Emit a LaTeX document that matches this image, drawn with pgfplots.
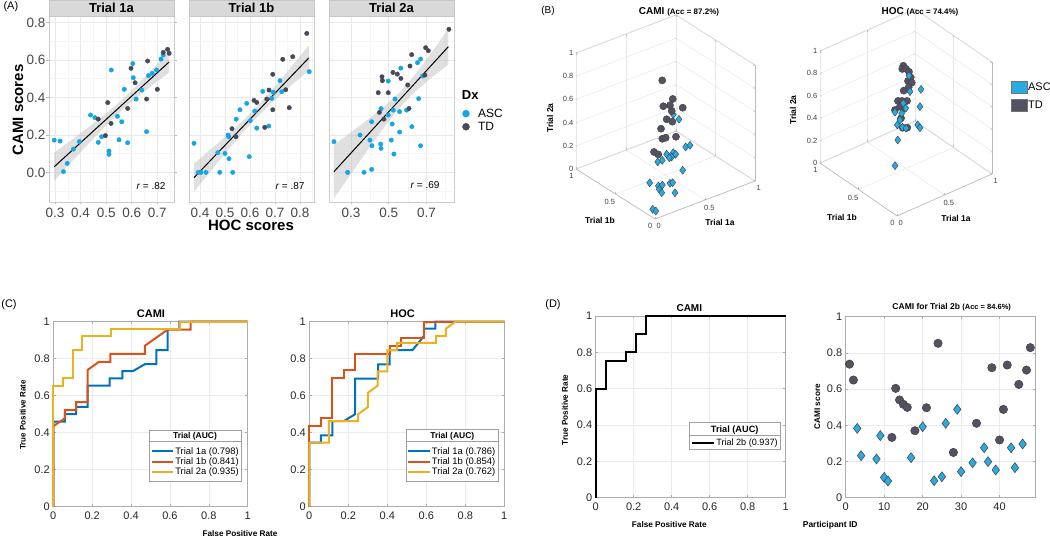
\documentclass[border=0pt]{standalone}
\usepackage{pgfplots}
\pgfplotsset{compat=1.18}
\usepackage{fontspec}
\setmainfont{Liberation Sans}
\newcommand{\fs}[1]{\fontsize{#1}{#1}\selectfont}
\definecolor{ascA}{RGB}{20,166,228}
\definecolor{tdA}{RGB}{72,72,88}
\definecolor{ascB}{RGB}{40,170,226}
\definecolor{tdB}{RGB}{82,82,98}
\definecolor{mblue}{RGB}{0,114,189}
\definecolor{mred}{RGB}{217,83,25}
\definecolor{myel}{RGB}{237,177,32}
\definecolor{stripc}{RGB}{217,217,217}
\tikzset{zlab/.style={anchor=east, font=\fs{7.5}, text=black!75, inner sep=2.5pt}}
\pgfplotsset{
 facetA/.style={
  scale only axis, anchor=south west, width=125pt, height=186pt,
  ymin=-0.158, ymax=0.834,
  ytick={0,0.2,0.4,0.6,0.8}, minor ytick={-0.1,0.1,0.3,0.5,0.7},
  grid=both, major grid style={draw=gray!17, line width=0.7pt}, minor grid style={draw=gray!8, line width=0.4pt},
  axis line style={draw=gray!40, line width=0.8pt},
  tick align=outside, major tick length=2.5pt, minor tick length=0pt,
  tick style={draw=gray!55, line width=0.7pt},
  tick label style={font=\fs{13.5}, text=black!72},
  yticklabel style={inner sep=1pt},
  clip=true,
 },
 b3d/.style={
  anchor=origin,
  xmin=0,xmax=1,ymin=0,ymax=1,zmin=0,zmax=1,
  xtick={0,0.5,1}, ytick={0,0.5,1}, ztick={0,0.2,0.4,0.6,0.8,1},
  xticklabels={0,0.5,1}, yticklabels={0,0.5,1}, zticklabels={},
  grid=major, major grid style={draw=gray!18, line width=0.5pt},
  axis line style={draw=gray!55, line width=0.6pt},
  tick style={draw=gray!55}, major tick length=2pt,
  tick label style={font=\fs{7.5}, text=black!75},
  clip=false,
 },
 roc/.style={
  scale only axis, anchor=south west,
  xmin=0, xmax=1, ymin=0, ymax=1,
  xtick={0,0.2,0.4,0.6,0.8,1}, ytick={0,0.2,0.4,0.6,0.8,1},
  xticklabels={0,0.2,0.4,0.6,0.8,1}, yticklabels={0,0.2,0.4,0.6,0.8,1},
  grid=major, major grid style={draw=gray!16, line width=0.6pt},
  axis line style={draw=gray!65, line width=0.6pt},
  tick style={draw=gray!65, line width=0.6pt}, tick align=inside, major tick length=2.5pt,
  tick label style={font=\fs{11}, text=black!85},
  xticklabel style={yshift=-2pt},
  clip=false,
  legend cell align=left,
  legend style={anchor=north west, draw=none, fill=none, inner sep=0pt, outer sep=0pt, row sep=0pt, font=\fs{9.4}, nodes={inner sep=1pt}},
 },
}
\begin{document}
\begin{tikzpicture}
\path[use as bounding box] (0pt,0pt) rectangle (1050pt,538pt);

% ================= Panel A =================
\begin{axis}[facetA, at={(49pt,336pt)}, xmin=0.2766, xmax=0.765,
  xtick={0.3,0.4,0.5,0.6,0.7}, xticklabels={0.3,0.4,0.5,0.6,0.7},
  minor xtick={0.35,0.45,0.55,0.65,0.75}, yticklabels={0.0,0.2,0.4,0.6,0.8}]
\addplot[draw=none, fill=gray!60, fill opacity=0.4] coordinates {(0.297,0.105)(0.35,0.158)(0.40,0.209)(0.45,0.260)(0.50,0.315)(0.55,0.373)(0.60,0.437)(0.65,0.506)(0.70,0.578)(0.746,0.646)(0.746,0.532)(0.70,0.486)(0.65,0.432)(0.60,0.377)(0.55,0.317)(0.50,0.251)(0.45,0.180)(0.40,0.107)(0.35,0.034)(0.297,-0.045)};
\addplot[only marks, mark=*, mark size=2.2pt, color=ascA] coordinates {(0.297,0.172)(0.320,0.167)(0.333,0.004)(0.348,0.048)(0.372,0.124)(0.395,0.164)(0.439,0.306)(0.456,0.292)(0.469,0.160)(0.482,0.190)(0.511,0.114)(0.511,0.096)(0.520,0.546)(0.544,0.299)(0.550,0.174)(0.561,0.270)(0.571,0.443)(0.584,0.158)(0.604,0.580)(0.606,0.505)(0.617,0.391)(0.639,0.439)(0.665,0.516)(0.680,0.528)(0.658,0.217)(0.697,0.546)(0.714,0.604)(0.723,0.626)};
\addplot[only marks, mark=*, mark size=2.2pt, color=tdA] coordinates {(0.469,0.284)(0.497,0.196)(0.506,0.372)(0.519,0.261)(0.584,0.341)(0.597,0.555)(0.613,0.478)(0.658,0.391)(0.662,0.594)(0.700,0.443)(0.723,0.640)(0.740,0.656)(0.746,0.635)};
\addplot[black, line width=1pt] coordinates {(0.297,0.030)(0.746,0.589)};
\end{axis}

\begin{axis}[facetA, at={(189pt,336pt)}, xmin=0.356, xmax=0.856,
  xtick={0.4,0.5,0.6,0.7,0.8}, xticklabels={0.4,0.5,0.6,0.7,0.8},
  minor xtick={0.45,0.55,0.65,0.75,0.85}, yticklabels={}, ytick style={draw=none}]
\addplot[draw=none, fill=gray!60, fill opacity=0.4] coordinates {(0.376,0.047)(0.42,0.097)(0.47,0.154)(0.52,0.212)(0.57,0.273)(0.62,0.339)(0.67,0.412)(0.72,0.490)(0.77,0.571)(0.835,0.677)(0.835,0.543)(0.77,0.469)(0.72,0.410)(0.67,0.350)(0.62,0.283)(0.57,0.211)(0.52,0.132)(0.47,0.052)(0.42,-0.031)(0.376,-0.103)};
\addplot[only marks, mark=*, mark size=2.2pt, color=ascA] coordinates {(0.376,0.155)(0.393,0.0)(0.404,0.0)(0.424,0.0)(0.471,0.105)(0.479,0.0)(0.500,0.101)(0.516,0.073)(0.512,0.199)(0.515,0.190)(0.531,0.0)(0.545,0.284)(0.560,0.334)(0.587,0.368)(0.597,0.084)(0.601,0.276)(0.619,0.327)(0.627,0.236)(0.651,0.432)(0.675,0.247)(0.687,0.395)(0.693,0.428)(0.720,0.489)(0.727,0.430)(0.837,0.537)};
\addplot[only marks, mark=*, mark size=2.2pt, color=tdA] coordinates {(0.528,0.233)(0.544,0.190)(0.616,0.384)(0.627,0.373)(0.659,0.240)(0.667,0.391)(0.676,0.439)(0.691,0.523)(0.691,0.334)(0.731,0.603)(0.743,0.441)(0.757,0.345)(0.771,0.617)(0.827,0.741)};
\addplot[black, line width=1pt] coordinates {(0.376,-0.028)(0.835,0.610)};
\end{axis}

\begin{axis}[facetA, at={(329pt,336pt)}, xmin=0.1836, xmax=0.845,
  xtick={0.3,0.5,0.7}, xticklabels={0.3,0.5,0.7},
  minor xtick={0.2,0.4,0.6,0.8}, yticklabels={}, ytick style={draw=none}]
\addplot[draw=none, fill=gray!60, fill opacity=0.4] coordinates {(0.21,0.146)(0.28,0.199)(0.35,0.252)(0.42,0.306)(0.49,0.364)(0.56,0.429)(0.63,0.510)(0.70,0.603)(0.76,0.686)(0.815,0.765)(0.815,0.575)(0.76,0.532)(0.70,0.483)(0.63,0.422)(0.56,0.349)(0.49,0.260)(0.42,0.164)(0.35,0.064)(0.28,-0.037)(0.21,-0.138)};
\addplot[only marks, mark=*, mark size=2.2pt, color=ascA] coordinates {(0.210,0.164)(0.282,0.0)(0.348,0.199)(0.369,0.0)(0.400,0.172)(0.409,0.016)(0.409,0.270)(0.411,0.142)(0.457,0.151)(0.459,0.128)(0.459,0.340)(0.497,0.306)(0.497,0.487)(0.513,0.172)(0.518,0.258)(0.524,0.332)(0.527,0.098)(0.533,0.391)(0.557,0.215)(0.557,0.324)(0.563,0.556)(0.594,0.332)(0.622,0.244)(0.658,0.393)(0.652,0.585)(0.668,0.604)(0.668,0.142)(0.679,0.514)};
\addplot[only marks, mark=*, mark size=2.2pt, color=tdA] coordinates {(0.444,0.425)(0.450,0.320)(0.464,0.510)(0.466,0.489)(0.474,0.284)(0.497,0.425)(0.522,0.533)(0.545,0.524)(0.564,0.501)(0.600,0.466)(0.607,0.341)(0.612,0.567)(0.621,0.628)(0.691,0.519)(0.695,0.665)(0.709,0.649)(0.818,0.763)};
\addplot[black, line width=1pt] coordinates {(0.21,0.004)(0.815,0.670)};
\end{axis}

% legend Dx
\begin{axis}[hide axis, scale only axis, width=20pt, height=20pt, at={(462.5pt,430.3pt)}, anchor=north west,
  xmin=0,xmax=1,ymin=0,ymax=1,
  legend style={at={(0,1)}, anchor=north west, draw=none, fill=none, inner sep=0pt, outer sep=0pt, row sep=1.3pt, font=\fs{12}, nodes={inner sep=1pt}, /tikz/every odd column/.append style={column sep=7.5pt}},
  legend cell align=left]
\addlegendimage{only marks, mark=*, mark size=3.5pt, color=ascA}
\addlegendentry{ASC}
\addlegendimage{only marks, mark=*, mark size=3.5pt, color=tdA}
\addlegendentry{TD}
\end{axis}

% ================= Panel B =================
\begin{axis}[b3d, at={(655pt,319pt)}, x={(100pt,38pt)}, y={(-79pt,50pt)}, z={(0pt,116pt)}]
\addplot3[only marks, mark=diamond*, mark size=4pt, mark options={fill=ascB, draw=black!75, line width=0.4pt}] coordinates {(0.576,0.498,0.498)(0.605,0.462,0.462)(0.360,0.308,0.308)(0.422,0.303,0.303)(0.436,0.290,0.290)(0.391,0.284,0.284)(0.368,0.285,0.285)(0.298,0.285,0.285)(0.253,0.286,0.286)(0.550,0.308,0.308)(0.593,0.308,0.308)(0.431,0.195,0.195)(0.101,0.195,0.195)(0.162,0.162,0.162)(0.199,0.159,0.159)(0.271,0.153,0.153)(0.296,0.151,0.151)(0.156,0.143,0.143)(0.163,0.121,0.121)(0.275,0.095,0.095)(0.020,0.054,0.054)(0.039,0.039,0.039)};
\addplot3[only marks, mark=*, mark size=3.6pt, mark options={fill=tdB, draw=black!75, line width=0.4pt}] coordinates {(0.620,0.693,0.693)(0.634,0.578,0.578)(0.525,0.559,0.559)(0.585,0.551,0.551)(0.683,0.514,0.514)(0.577,0.519,0.519)(0.501,0.486,0.486)(0.539,0.463,0.463)(0.415,0.449,0.449)(0.385,0.395,0.395)(0.418,0.394,0.394)(0.509,0.379,0.379)(0.262,0.344,0.344)(0.288,0.323,0.323)};
\node[zlab] at (axis cs:0,1,0) {0};
\node[zlab] at (axis cs:0,1,0.2) {0.2};
\node[zlab] at (axis cs:0,1,0.4) {0.4};
\node[zlab] at (axis cs:0,1,0.6) {0.6};
\node[zlab] at (axis cs:0,1,0.8) {0.8};
\node[zlab] at (axis cs:0,1,1) {1};
\end{axis}

\begin{axis}[b3d, at={(897pt,322pt)}, x={(95pt,42pt)}, y={(-77pt,53pt)}, z={(0pt,112pt)}]
\addplot3[only marks, mark=*, mark size=3.6pt, mark options={fill=tdB, draw=black!75, line width=0.4pt}] coordinates {(0.667,0.741,0.741)(0.645,0.727,0.727)(0.678,0.719,0.719)(0.692,0.698,0.698)(0.684,0.666,0.666)(0.646,0.654,0.654)(0.671,0.637,0.637)(0.569,0.615,0.615)(0.626,0.621,0.621)(0.477,0.576,0.576)(0.512,0.567,0.567)(0.556,0.556,0.556)(0.414,0.537,0.537)(0.493,0.527,0.527)(0.433,0.482,0.482)(0.409,0.431,0.431)(0.449,0.421,0.421)(0.471,0.543,0.543)};
\addplot3[only marks, mark=diamond*, mark size=4pt, mark options={fill=ascB, draw=black!75, line width=0.4pt}] coordinates {(0.676,0.678,0.678)(0.620,0.596,0.596)(0.725,0.583,0.583)(0.645,0.498,0.498)(0.514,0.552,0.552)(0.515,0.522,0.522)(0.405,0.526,0.526)(0.460,0.506,0.506)(0.417,0.476,0.476)(0.374,0.457,0.457)(0.408,0.434,0.434)(0.436,0.421,0.421)(0.552,0.412,0.412)(0.560,0.392,0.392)(0.316,0.380,0.380)(0.188,0.257,0.257)};
\node[zlab] at (axis cs:0,1,0) {0};
\node[zlab] at (axis cs:0,1,0.2) {0.2};
\node[zlab] at (axis cs:0,1,0.4) {0.4};
\node[zlab] at (axis cs:0,1,0.6) {0.6};
\node[zlab] at (axis cs:0,1,0.8) {0.8};
\node[zlab] at (axis cs:0,1,1) {1};
\end{axis}

% legend B
\begin{axis}[hide axis, scale only axis, width=20pt, height=20pt, at={(1010.7pt,456.7pt)}, anchor=north west,
  xmin=0,xmax=1,ymin=0,ymax=1,
  legend style={at={(0,1)}, anchor=north west, draw=none, fill=none, inner sep=0pt, outer sep=0pt, row sep=5.4pt, font=\fs{11}, nodes={inner sep=1pt}},
  legend cell align=left,
  legend image code/.code={\draw[#1] (0pt,-6pt) rectangle (16pt,6pt);}]
\addlegendimage{fill=ascB, draw=black!55}
\addlegendentry{ASC}
\addlegendimage{fill=tdB, draw=black!55}
\addlegendentry{TD}
\end{axis}

% ================= Panel C =================
\begin{axis}[roc, at={(53.3pt,31.3pt)}, width=194.4pt, height=185pt,
  legend style={at={(0.501,0.3265)}},
  legend image code/.code={\draw[#1, line width=2pt] (0pt,0pt) -- (21.6pt,0pt);}]
\addplot[mblue, line width=2pt] coordinates {(0,0)(0,0.46)(0.06,0.46)(0.06,0.5)(0.118,0.5)(0.118,0.54)(0.177,0.54)(0.177,0.654)(0.29,0.654)(0.29,0.694)(0.355,0.694)(0.355,0.733)(0.41,0.733)(0.47,0.77)(0.53,0.77)(0.53,0.846)(0.588,0.846)(0.588,0.96)(0.648,0.96)(0.648,1)(1,1)};
\addplot[mred, line width=2pt] coordinates {(0,0)(0,0.435)(0.06,0.478)(0.06,0.522)(0.118,0.522)(0.118,0.565)(0.176,0.565)(0.176,0.739)(0.235,0.783)(0.294,0.783)(0.294,0.826)(0.471,0.826)(0.471,0.870)(0.588,0.957)(0.706,0.957)(0.706,1)(1,1)};
\addplot[myel, line width=2pt] coordinates {(0,0)(0,0.652)(0.05,0.652)(0.05,0.696)(0.1,0.696)(0.1,0.848)(0.15,0.848)(0.15,0.924)(0.297,0.924)(0.297,0.962)(0.65,0.962)(0.65,1)(1,1)};
\draw[gray!75, fill=white, line width=0.6pt] (axis description cs:0.4923,0.1351) rectangle (axis description cs:0.9655,0.4146);
\draw[gray!75, line width=0.6pt] (axis description cs:0.4923,0.3514) -- (axis description cs:0.9655,0.3514);
\node[font=\bfseries\fs{8.5}] at (axis description cs:0.7289,0.3822) {Trial (AUC)};
\legend{Trial 1a (0.798),Trial 1b (0.841),Trial 2a (0.935)}
\end{axis}

\begin{axis}[roc, at={(309.3pt,31.3pt)}, width=195pt, height=185pt,
  legend style={at={(0.5026,0.3265)}},
  legend image code/.code={\draw[#1, line width=2pt] (0pt,0pt) -- (21.6pt,0pt);}]
\addplot[mblue, line width=2pt] coordinates {(0,0)(0,0.346)(0.059,0.346)(0.059,0.385)(0.118,0.385)(0.118,0.462)(0.176,0.462)(0.235,0.5)(0.235,0.692)(0.353,0.692)(0.353,0.769)(0.412,0.769)(0.412,0.846)(0.529,0.846)(0.588,0.923)(0.588,0.962)(0.647,0.962)(0.647,1)(1,1)};
\addplot[mred, line width=2pt] coordinates {(0,0)(0,0.435)(0.059,0.435)(0.059,0.478)(0.118,0.478)(0.118,0.696)(0.176,0.696)(0.176,0.739)(0.235,0.739)(0.235,0.826)(0.412,0.826)(0.412,0.870)(0.471,0.870)(0.471,0.913)(0.588,0.913)(0.588,1)(1,1)};
\addplot[myel, line width=2pt] coordinates {(0,0)(0,0.346)(0.1,0.346)(0.1,0.462)(0.25,0.462)(0.25,0.5)(0.3,0.538)(0.3,0.615)(0.35,0.654)(0.35,0.731)(0.4,0.731)(0.4,0.846)(0.45,0.846)(0.45,0.885)(0.65,0.885)(0.65,0.923)(0.7,0.923)(0.7,0.962)(0.75,1)(1,1)};
\draw[gray!75, fill=white, line width=0.6pt] (axis description cs:0.4959,0.1389) rectangle (axis description cs:0.9692,0.4184);
\draw[gray!75, line width=0.6pt] (axis description cs:0.4959,0.3514) -- (axis description cs:0.9692,0.3514);
\node[font=\bfseries\fs{8.5}] at (axis description cs:0.7333,0.3822) {Trial (AUC)};
\legend{Trial 1a (0.786),Trial 1b (0.854),Trial 2a (0.762)}
\end{axis}

% ================= Panel D =================
\begin{axis}[roc, at={(595.7pt,40.3pt)}, width=190pt, height=181.7pt,
  legend style={at={(0.5,0.329)}, font=\fs{9.1}},
  legend image code/.code={\draw[#1] (0pt,0pt) -- (22.6pt,0pt);}]
\addplot[black, line width=2pt] coordinates {(0,0)(0,0.6)(0.053,0.6)(0.053,0.75)(0.158,0.75)(0.158,0.8)(0.211,0.8)(0.211,0.9)(0.263,0.9)(0.263,1)(1,1)};
\draw[gray!75, fill=white, line width=0.6pt] (axis description cs:0.4926,0.2664) rectangle (axis description cs:0.9705,0.415);
\draw[gray!75, line width=0.6pt] (axis description cs:0.4926,0.3412) -- (axis description cs:0.9705,0.3412);
\node[font=\bfseries\fs{9.2}] at (axis description cs:0.7316,0.3726) {Trial (AUC)};
\legend{Trial 2b (0.937)}
\end{axis}

\begin{axis}[roc, at={(845.7pt,40.3pt)}, width=190pt, height=181pt,
  xmin=0, xmax=49.4, xtick={0,10,20,30,40}, xticklabels={0,10,20,30,40}]
\addplot[only marks, mark=*, mark size=4.2pt, mark options={fill=tdB, draw=black!75, line width=0.5pt}] coordinates {(1,0.738)(2,0.650)(12,0.333)(13,0.604)(14,0.540)(15,0.516)(16,0.499)(18,0.370)(21,0.497)(24,0.853)(28,0.250)(34,0.411)(38,0.718)(40,0.319)(41,0.488)(42,0.733)(45,0.626)(47,0.705)(48,0.829)};
\addplot[only marks, mark=diamond*, mark size=5pt, mark options={fill=ascB, draw=black!75, line width=0.5pt}] coordinates {(3,0.383)(4,0.232)(8,0.214)(9,0.343)(10,0.112)(11,0.092)(17,0.221)(20,0.392)(23,0.094)(25,0.116)(26,0.411)(29,0.488)(30,0.144)(33,0.193)(36,0.276)(37,0.199)(39,0.153)(43,0.276)(44,0.166)(46,0.297)};
\end{axis}

% ================= Texts =================
\begin{scope}[x=1pt,y=1pt]
% Panel A
\node[anchor=west, font=\fs{11}] at (0,531) {(A)};
\foreach \xa/\xb/\lab in {49/174/Trial 1a, 189/314/Trial 1b, 329/454/Trial 2a}{
  \draw[fill=stripc, draw=gray!45, line width=0.7pt] (\xa,522) rectangle (\xb,537.5);
  \node[font=\bfseries\fs{13}] at ({(\xa+\xb)/2},529.7) {\lab};
}
\node[rotate=90, font=\bfseries\fs{15}] at (18,428) {CAMI scores};
\node[font=\bfseries\fs{15}] at (251,313) {HOC scores};
\node[anchor=east, font=\fs{10}] at (169,352) {\textit{r} = .82};
\node[anchor=east, font=\fs{10}] at (308,352) {\textit{r} = .87};
\node[anchor=east, font=\fs{10}] at (443,353) {\textit{r} = .69};
\node[anchor=west, font=\bfseries\fs{13}, inner sep=0pt] at (461.7,443) {Dx};
% Panel B
\node[font=\fs{10}] at (548,527) {(B)};
\node[font=\bfseries\fs{10}] at (679,526) {CAMI {\fs{8}(Acc = 87.2\%)}};
\node[font=\bfseries\fs{10}] at (920,526) {HOC {\fs{8}(Acc = 74.4\%)}};
\node[rotate=90, font=\bfseries\fs{8.5}] at (550,420) {Trial 2a};
\node[font=\bfseries\fs{8.5}] at (600,318) {Trial 1b};
\node[font=\bfseries\fs{8.5}] at (720,315.3) {Trial 1a};
\node[rotate=90, font=\bfseries\fs{8.5}] at (793,428) {Trial 2a};
\node[font=\bfseries\fs{8.5}] at (842,321) {Trial 1b};
\node[font=\bfseries\fs{8.5}] at (956,320) {Trial 1a};
% Panel C
\node[font=\fs{11}] at (9,233) {(C)};
\node[font=\bfseries\fs{11}] at (151,224.7) {CAMI};
\node[font=\bfseries\fs{11}] at (402.7,224.7) {HOC};
\node[rotate=90, font=\bfseries\fs{8}] at (22.7,123) {True Positive Rate};
\node[font=\bfseries\fs{8.2}] at (240,4) {False Positive Rate};
% Panel D
\node[font=\fs{11}] at (553,233) {(D)};
\node[font=\bfseries\fs{10}] at (689.3,229.7) {CAMI};
\node[rotate=90, font=\bfseries\fs{8.2}] at (565,128) {True Positive Rate};
\node[font=\bfseries\fs{8.2}] at (669.3,13) {False Positive Rate};
\node[font=\bfseries\fs{8.5}] at (951.7,230.3) {CAMI for Trial 2b {\fs{7.5}(Acc = 84.6\%)}};
\node[rotate=90, font=\bfseries\fs{8.2}] at (817.3,131.3) {CAMI score};
\node[anchor=west, font=\bfseries\fs{8.5}] at (799.3,13) {Participant ID};
\end{scope}
\end{tikzpicture}
\end{document}
